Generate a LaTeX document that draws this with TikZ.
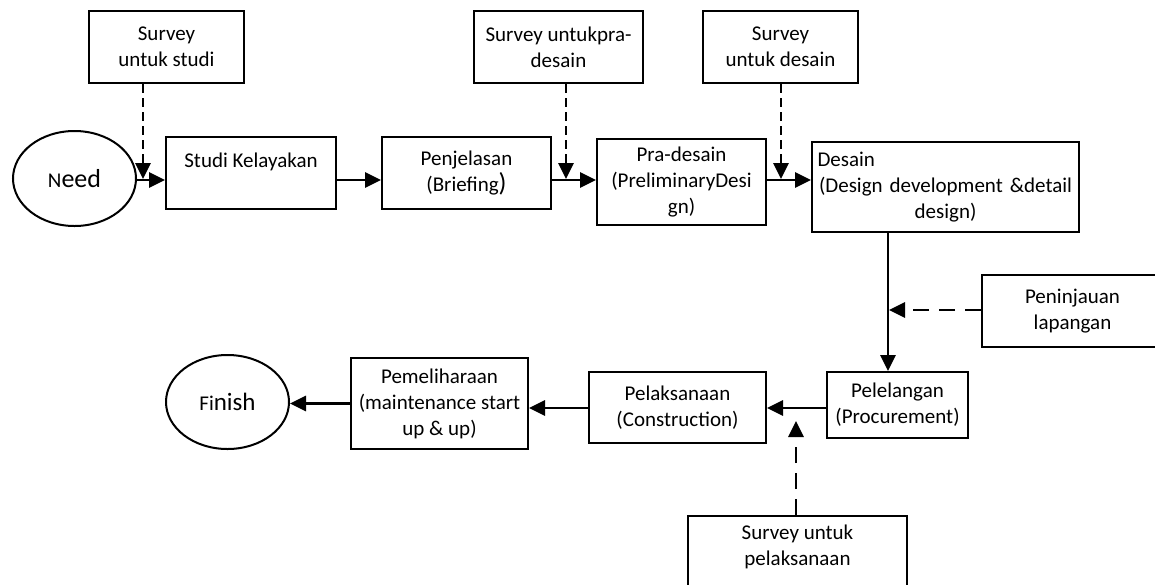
\documentclass[tikz,border=0pt]{standalone}
\usepackage{fontspec}
\setmainfont{Carlito}
\usetikzlibrary{arrows.meta,positioning,shapes.geometric,calc}

\begin{document}
\begin{tikzpicture}[x=1pt,y=-1pt,
    box/.style={draw,line width=2pt,inner sep=0pt,align=center,
      font=\fontsize{21}{26}\selectfont},
    oval/.style={ellipse,draw,line width=2pt,inner sep=0pt,
      minimum width=123pt,minimum height=95pt},
    arr/.style={-{Triangle[length=16pt,width=15pt]},line width=2.8pt},
    dasharr/.style={arr,dash pattern=on 9pt off 5pt},
    longdash/.style={arr,dash pattern=on 16pt off 10pt}
  ]
    \useasboundingbox (0,0) rectangle (1155,584);
    \node[oval] (need) at (74.5,178.5)
      {{\fontsize{21}{21}\selectfont N}{\fontsize{26}{26}\selectfont eed}};
    \node[box,minimum width=170pt,minimum height=72pt] (studi) at (251,173)
      {Studi Kelayakan\\\mbox{}};
    \node[box,minimum width=169pt,minimum height=72pt] (penj) at (466.5,173)
      {Penjelasan\\(Briefing{\fontsize{26}{26}\selectfont)}};
    \node[box,minimum width=169pt,minimum height=86pt] (pra) at (681.5,182)
      {Pra-desain\\(PreliminaryDesi\\gn)};
    \node[box,minimum width=267pt,minimum height=90pt,text width=262pt] (desain) at (945.5,187)
      {\makebox[262pt][l]{\hspace*{3pt}Desain}\\(Design development \&detail\\design)};
    \node[box,minimum width=155pt,minimum height=72pt] (surstudi) at (166.5,47)
      {Survey\\untuk studi};
    \node[box,minimum width=169pt,minimum height=72pt] (surpra) at (558.5,47)
      {Survey untukpra-\\desain};
    \node[box,minimum width=155pt,minimum height=72pt] (surdesain) at (780.5,47)
      {Survey\\untuk desain};
    \node[box,minimum width=181pt,minimum height=72pt,anchor=west] (tinjau) at (981,311)
      {Peninjauan\\lapangan};
    \node[box,minimum width=141pt,minimum height=66pt] (pelel) at (897.5,405)
      {Pelelangan\\(Procurement)};
    \node[box,minimum width=177pt,minimum height=71pt] (pelak) at (677.5,407.5)
      {Pelaksanaan\\(Construction)};
    \node[box,minimum width=219pt,minimum height=77pt,anchor=north] (surpelak) at (797.5,515)
      {Survey untuk\\pelaksanaan\\[-8pt]\mbox{}};
    \node[box,minimum width=177pt,minimum height=91pt] (pemel) at (439.5,403.5)
      {Pemeliharaan\\(maintenance start\\up \& up)};
    \node[oval,minimum height=94pt] (finish) at (227.5,402)
      {{\fontsize{21}{21}\selectfont Fi}{\fontsize{25}{25}\selectfont nish}};

    \coordinate (row) at (0,180);
    \draw[arr] (need.east |- row) -- (studi.west |- row);
    \draw[arr] (studi.east |- row) -- (penj.west |- row);
    \draw[arr] (penj.east |- row) -- (pra.west |- row);
    \draw[arr] (pra.east |- row) -- (desain.west |- row);
    \coordinate (j1) at (143,179);
    \coordinate (j2) at (566,179);
    \coordinate (j3) at (781,179);
    \draw[dasharr] (surstudi.south -| j1) -- (j1);
    \draw[dasharr] (surpra.south -| j2) -- (j2);
    \draw[dasharr] (surdesain.south -| j3) -- (j3);

    \coordinate (col) at (888,0);
    \draw[arr] (desain.south -| col) -- (pelel.north -| col);
    \coordinate (j4) at (889,310);
    \draw[longdash] (tinjau.west |- j4) -- (j4);

    \coordinate (row2) at (0,408);
    \draw[arr] (pelel.west |- row2) -- (pelak.east |- row2);
    \draw[arr] (pelak.west |- row2) -- (pemel.east |- row2);
    \draw[arr] (pemel.west) -- (pemel.west -| finish.east);
    \coordinate (j5) at (796,421);
    \draw[longdash] (surpelak.north -| j5) -- (j5);
  \end{tikzpicture}
\end{document}
